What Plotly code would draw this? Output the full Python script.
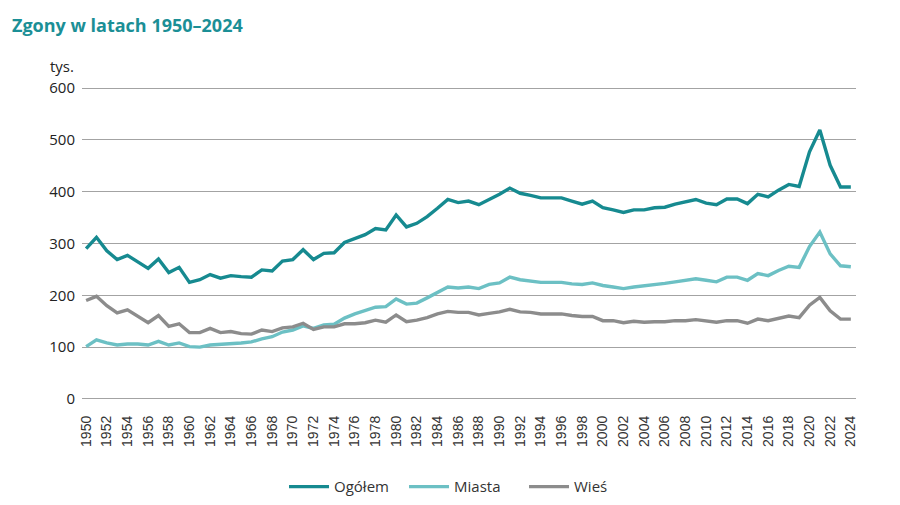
import plotly.graph_objects as go

years = list(range(1950, 2025))

ogolem = [290, 312, 286, 269, 277, 264, 252, 270, 244, 254,
          225, 230, 240, 233, 238, 236, 235, 249, 247, 266,
          269, 288, 269, 281, 282, 302, 309, 317, 329, 326,
          355, 332, 339, 352, 368, 385, 379, 382, 375, 385,
          395, 407, 397, 393, 388, 388, 388, 382, 376, 382,
          369, 365, 360, 365, 365, 369, 370, 376, 380, 385,
          378, 375, 386, 386, 377, 395, 390, 403, 414, 410,
          477, 519, 451, 409, 409]

miasta = [101, 114, 108, 104, 106, 106, 104, 111, 104, 108,
          101, 100, 104, 105, 107, 108, 110, 116, 120, 129,
          133, 141, 136, 143, 144, 156, 164, 170, 177, 178,
          193, 183, 185, 195, 206, 216, 214, 216, 213, 221,
          224, 235, 230, 227, 225, 225, 225, 222, 221, 224,
          219, 216, 213, 216, 218, 221, 223, 226, 229, 232,
          229, 226, 235, 235, 229, 242, 238, 248, 256, 254,
          294, 322, 280, 257, 255]

wies = [190, 198, 180, 166, 172, 160, 147, 161, 140, 145,
        128, 128, 136, 128, 130, 126, 125, 133, 130, 137,
        139, 146, 134, 139, 139, 145, 145, 147, 152, 148,
        162, 149, 152, 157, 164, 169, 167, 167, 162, 165,
        168, 173, 168, 167, 164, 164, 164, 161, 159, 159,
        151, 151, 147, 150, 148, 149, 149, 151, 151, 153,
        150, 148, 151, 151, 146, 154, 151, 155, 160, 157,
        181, 196, 170, 154, 154]

tick_years = list(range(1950, 2025, 2))
tick_labels = [str(y) for y in tick_years]
y_ticks = [0, 100, 200, 300, 400, 500, 600]

series = [("Ogółem", ogolem, "#168a90"),
          ("Miasta", miasta, "#6cc0c4"),
          ("Wieś", wies, "#8c8c8c")]

fig = go.Figure()
for name, vals, col in series:
    fig.add_trace(go.Scatter(x=years, y=vals, name=name, mode="lines",
                             line=dict(color=col, width=3.4)))

# page body adds an 8px offset; layout geometry is set in page pixels minus that
OFF = 8
L, R = 73.9, 848.2          # plot area left/right (layout px)
T, B = 76.9, 394.1          # plot area top/bottom (layout px)
W, H = R - L, B - T


def px_x(x):
    return (x - OFF - L) / W


def px_y(y):
    return (B - (y - OFF)) / H


fig.update_layout(
    width=900, height=505,
    margin=dict(l=L, r=900 - R, t=T, b=505 - B, autoexpand=False),
    paper_bgcolor="white", plot_bgcolor="white",
    font=dict(family="Open Sans", size=14, color="#222"),
    showlegend=True,
    legend=dict(orientation="h", x=px_x(284), xanchor="left", y=px_y(487), yanchor="middle",
                font=dict(family="Open Sans", size=15, color="#333"),
                itemwidth=40, entrywidth=65, entrywidthmode="pixels",
                traceorder="normal"),
    xaxis=dict(range=[1949.6, 2024.5], tickmode="array", tickvals=tick_years,
               ticktext=tick_labels, tickangle=-90, showgrid=False, zeroline=False,
               showline=False, ticks="", automargin=False, ticklabelstandoff=10,
               tickfont=dict(family="Liberation Sans", size=14, color="#333")),
    yaxis=dict(range=[-6, 606], tickmode="array", tickvals=y_ticks, showgrid=True,
               gridcolor="#a3a3a3", gridwidth=1, zeroline=False, showline=False,
               ticks="", ticklabelstandoff=6, automargin=False,
               tickfont=dict(family="Open Sans", size=15, color="#222")),
    annotations=[
        dict(text="<b>Zgony w latach 1950–2024</b>", xref="paper", yref="paper",
             x=px_x(10), y=px_y(25), xanchor="left", yanchor="middle",
             showarrow=False, font=dict(family="Open Sans", size=18, color="#1b8f96")),
        dict(text="tys.", xref="paper", yref="paper",
             x=px_x(48), y=px_y(66), xanchor="left", yanchor="middle",
             showarrow=False, font=dict(family="Open Sans", size=15, color="#222")),
    ],
)

fig.write_html("out.html")
